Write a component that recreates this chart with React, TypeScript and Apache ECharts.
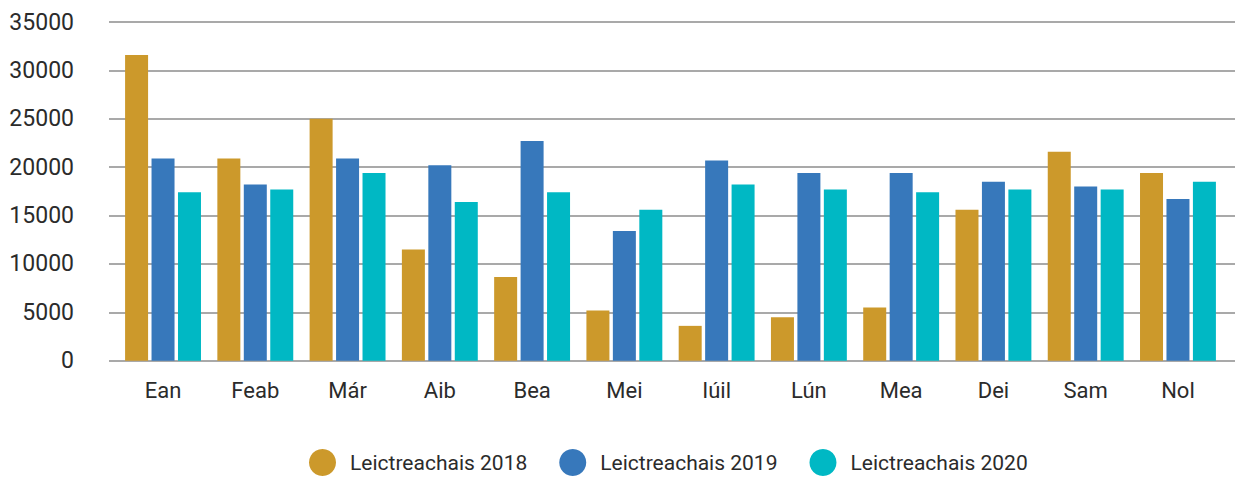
import React, { useEffect, useRef } from "react";
import * as echarts from "echarts";

const categories = ["Ean", "Feab", "Már", "Aib", "Bea", "Mei", "Iúil", "Lún", "Mea", "Dei", "Sam", "Nol"];
const seriesNames = ["Leictreachais 2018", "Leictreachais 2019", "Leictreachais 2020"];
const values2018 = [31600, 20900, 25000, 11500, 8650, 5200, 3600, 4500, 5500, 15600, 21600, 19400];
const values2019 = [20900, 18200, 20900, 20200, 22700, 13400, 20700, 19400, 19400, 18500, 18000, 16700];
const values2020 = [17400, 17700, 19400, 16400, 17400, 15600, 18200, 17700, 17400, 17700, 17700, 18500];
const colors = ["#CC992B", "#3778BB", "#00B8C4"];

const FONT = "Roboto, 'Noto Sans', sans-serif";

export default function App() {
  const ref = useRef<HTMLDivElement>(null);
  useEffect(() => {
    document.body.style.margin = "0";
    const chart = echarts.init(ref.current!, null, { renderer: "svg" });
    const seriesData = [values2018, values2019, values2020];
    chart.setOption({
      animation: false,
      backgroundColor: "#ffffff",
      textStyle: { fontFamily: FONT },
      legend: {
        data: seriesNames,
        top: 449,
        left: 309,
        padding: 0,
        icon: "circle",
        itemWidth: 27,
        itemHeight: 27,
        itemGap: 32,
        textStyle: { fontSize: 21, color: "#2b2b2b", fontFamily: FONT, padding: [0, 0, 0, 9] },
      },
      grid: [
        { left: 109, right: 0, top: 22, bottom: 116.3, containLabel: false },
        { left: 116.9, right: 10.9, top: 22, bottom: 116.3, containLabel: false },
      ],
      xAxis: [
        { type: "category", gridIndex: 0, data: categories, show: false },
        {
          type: "category",
          gridIndex: 1,
          data: categories,
          axisLine: { show: false },
          axisTick: { show: false },
          axisLabel: { fontSize: 22, color: "#2b2b2b", margin: 19, fontFamily: FONT },
        },
      ],
      yAxis: [
        {
          type: "value",
          gridIndex: 0,
          min: 0,
          max: 35000,
          interval: 5000,
          axisLine: { show: false },
          axisTick: { show: false },
          axisLabel: {
            fontSize: 23,
            color: "#2b2b2b",
            margin: 35,
            fontFamily: FONT,
            formatter: (v: number) => String(v),
          },
          splitLine: { lineStyle: { color: "#8c8c8c", width: 1.5 } },
        },
        {
          type: "value",
          gridIndex: 1,
          min: 0,
          max: 35000,
          interval: 5000,
          show: false,
          splitLine: { show: false },
        },
      ],
      series: seriesNames.map((name, i) => ({
        name,
        type: "bar",
        xAxisIndex: 1,
        yAxisIndex: 1,
        data: seriesData[i],
        barWidth: 23,
        barGap: "15%",
        itemStyle: { color: colors[i] },
      })),
    });
    return () => chart.dispose();
  }, []);
  return <div ref={ref} style={{ width: 1235, height: 477 }} />;
}
